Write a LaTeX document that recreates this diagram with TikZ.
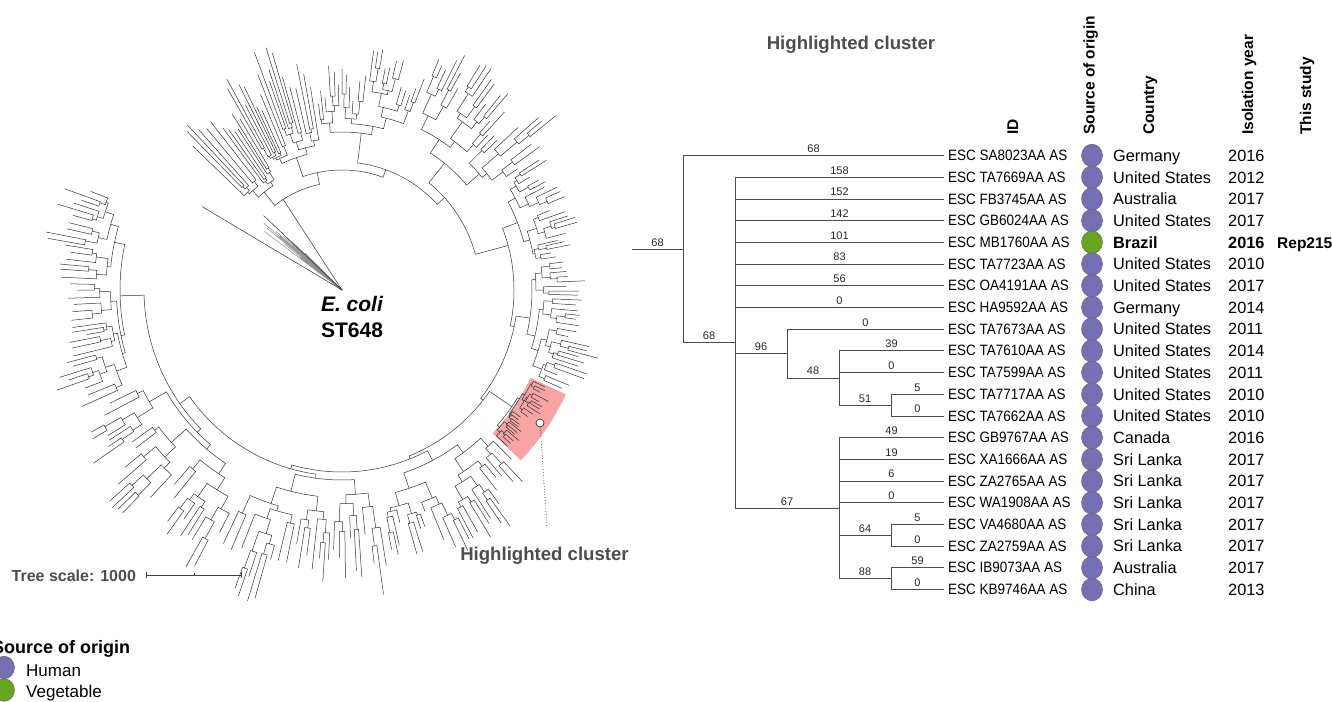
\documentclass[tikz,border=0pt]{standalone}
\usepackage{fontspec}
\setmainfont{Liberation Sans}
\usetikzlibrary{shapes.geometric,calc}
\definecolor{human}{HTML}{7570B3}
\definecolor{veg}{HTML}{66A61E}
\definecolor{hl}{RGB}{246,164,164}
\definecolor{labgray}{HTML}{4D4D4D}
\newcommand\fs[1]{\fontsize{#1}{#1}\selectfont}
\def\minspan{1.4}\def\imin{2}\def\imax{10}\def\lmin{5}\def\lmax{20}
\newcommand\clade[4]{%
  \pgfmathsetmacro\cspan{#2-#1}%
  \pgfmathsetmacro\cmid{(#1+#2)/2}%
  \pgfmathtruncatemacro\cleaf{(\cspan<\minspan)||(#4<1)}%
  \ifnum\cleaf=1
    \pgfmathsetmacro\cend{#3+\lmin+(\lmax-\lmin)*rnd}%
    \draw[tl] (\cmid:#3) -- (\cmid:\cend);%
  \else
    \pgfmathsetmacro\csplit{#1+\cspan*(0.22+0.56*rnd)}%
    \pgfmathsetmacro\cmA{(#1+\csplit)/2}%
    \pgfmathsetmacro\cmB{(\csplit+#2)/2}%
    \pgfmathsetmacro\crA{#3+\imin+(\imax-\imin)*rnd}%
    \pgfmathsetmacro\crB{#3+\imin+(\imax-\imin)*rnd}%
    \pgfmathtruncatemacro\cdep{#4-1}%
    \draw[tl] (\cmA:\crA) -- (\cmA:#3) arc[start angle=\cmA,end angle=\cmB,radius=#3] -- (\cmB:\crB);%
    \edef\cnext{\noexpand\clade{#1}{\csplit}{\crA}{\cdep}\noexpand\clade{\csplit}{#2}{\crB}{\cdep}}%
    \begingroup\cnext\endgroup
  \fi}
\newcommand\params[5]{\def\imin{#1}\def\imax{#2}\def\lmin{#3}\def\lmax{#4}\def\minspan{#5}}
\begin{document}
\begin{tikzpicture}[x=1pt,y=-1pt,
  tl/.style={draw=black!80,line width=0.5pt},
  rt/.style={draw=black!70,line width=0.8pt},
  bl/.style={font=\fs{11},inner sep=0pt,text=black!85},
  idtxt/.style={font=\fs{15},inner sep=0pt,xscale=0.9},
  cell/.style={font=\fs{16.3},inner sep=0pt},
  hdr/.style={font=\fs{15.5}\bfseries,inner sep=0pt,rotate=90,anchor=base west},
  src/.style={ellipse,draw=black!60,line width=0.5pt,minimum width=21pt,minimum height=22.6pt,inner sep=0pt},
  graylab/.style={font=\fs{18.6}\bfseries,text=labgray,inner sep=0pt}]
\useasboundingbox (0,0) rectangle (1332,701);
% ---------------- circular tree ----------------
\begin{scope}[shift={(342,290)}]
  \fill[hl] (25:208) arc[start angle=25,end angle=43.6,radius=208] -- (43.6:247)
        arc[start angle=43.6,end angle=25,radius=247] -- cycle;
  % grey collapsed bundle and root lines
  \pgfmathsetseed{7}
  \foreach \i in {0,...,16}{
    \pgfmathsetmacro\ga{217+0.5*\i}
    \pgfmathsetmacro\gl{45+60*rnd}
    \draw[draw=black!45,line width=0.5pt] (0,0) -- (\ga:\gl);
  }
  \draw[tl] (0,0) -- (210.8:163);
  \draw[tl] (0,0) -- (223.5:108);
  % backbone
  \draw[tl] (0,0) -- (237:108);
  \draw[tl] (231.5:125) -- (231.5:108) arc[start angle=231.5,end angle=258,radius=108] -- (258:120);
  \draw[tl] (251:140) -- (251:120) arc[start angle=251,end angle=290,radius=120] -- (290:128);
  \draw[tl] (277:158) -- (277:128) arc[start angle=277,end angle=318,radius=128] -- (318:138);
  \draw[tl] (309:163) -- (309:138) arc[start angle=309,end angle=345,radius=138] -- (345:172);
  \draw[tl] (339:188) -- (339:172) arc[start angle=339,end angle=372,radius=172] -- (372:176);
  \draw[tl] (368.5:190) -- (368.5:176) arc[start angle=368.5,end angle=398,radius=176] -- (398:179);
  \draw[tl] (394.5:206) -- (394.5:179) arc[start angle=394.5,end angle=428,radius=179] -- (428:182);
  \draw[tl] (422:193) -- (422:182) arc[start angle=422,end angle=466,radius=182] -- (466:186);
  \draw[tl] (458:190) -- (458:186) arc[start angle=458,end angle=505,radius=186] -- (505:198);
  \draw[tl] (495.5:203) -- (495.5:198) arc[start angle=495.5,end angle=538.5,radius=198] -- (538.5:222);
  % clades
  \pgfmathsetseed{11}\params{2}{9}{45}{80}{2.0}\clade{223}{240}{125}{14}
  \pgfmathsetseed{12}\params{2}{10}{40}{75}{1.8}\clade{240}{262}{140}{14}
  \pgfmathsetseed{13}\params{4}{14}{4}{18}{2.0}\clade{262}{292}{158}{14}
  \pgfmathsetseed{14}\params{5}{22}{4}{18}{2.0}\clade{292}{326}{163}{14}
  \pgfmathsetseed{15}\params{2}{10}{5}{22}{2.0}\clade{326}{352}{188}{14}
  \pgfmathsetseed{16}\params{2}{10}{6}{28}{1.8}\clade{352}{385}{190}{14}
  \pgfmathsetseed{17}\params{1}{4}{5}{15}{1.3}\clade{385}{404}{206}{14}
  \pgfmathsetseed{18}\params{3}{18}{5}{25}{2.0}\clade{404}{440}{193}{14}
  \pgfmathsetseed{19}\params{5}{22}{5}{30}{2.0}\clade{440}{476}{190}{14}
  \pgfmathsetseed{20}\params{5}{20}{5}{22}{2.0}\clade{476}{515}{203}{14}
  \pgfmathsetseed{21}\params{2}{12}{10}{35}{2.0}\clade{515}{562}{222}{14}
\end{scope}
\node[circle,draw=black!80,fill=white,line width=0.7pt,minimum size=8pt,inner sep=0pt] (hc) at (540,423) {};
\coordinate (hcend) at (547,528);
\draw[black!70,dotted,line width=0.8pt] (hc) -- (hcend);
\node[graylab,anchor=base] (hclab) at (544.5,560) {Highlighted cluster};
\node[font=\fs{21}\bfseries\itshape,anchor=base,inner sep=0pt] (ecoli) at (352,311) {E. coli};
\node[font=\fs{21}\bfseries,anchor=base,inner sep=0pt] (st) at (352,337) {ST648};
% tree scale
\node[font=\fs{16}\bfseries,text=labgray,anchor=base west,inner sep=0pt] (tsl) at (11.5,581) {Tree scale: 1000};
\coordinate (sb1) at (146.7,575);
\coordinate (sb2) at (241.7,575);
\coordinate (sbm) at (194.2,575);
\draw[black!75,line width=0.8pt] (sb1) -- (sb2);
\draw[black!75,line width=0.8pt] ([yshift=3pt]sb1) -- ([yshift=-3pt]sb1);
\draw[black!75,line width=0.8pt] ([yshift=3pt]sb2) -- ([yshift=-3pt]sb2);
\draw[black!75,line width=0.8pt] (sbm) -- ([yshift=2pt]sbm);
% legend
\node[font=\fs{18}\bfseries,anchor=base west,inner sep=0pt] (legt) at (-8,653) {Source of origin};
\node[src,fill=human] (lh) at (4,667.5) {};
\node[src,fill=veg] (lv) at (4,690) {};
\node[font=\fs{17},anchor=base west,inner sep=0pt] (lht) at (26,676.7) {Human};
\node[font=\fs{17},anchor=base west,inner sep=0pt] (lvt) at (26,697.3) {Vegetable};
% ---------------- right tree ----------------
\node[graylab,anchor=base] (title) at (851,50) {Highlighted cluster};
\node[hdr] (hid) at (1018,135) {ID};
\node[hdr] (hsrc) at (1094.5,135) {Source of origin};
\node[hdr] (hcty) at (1154,135) {Country};
\node[hdr] (hyr) at (1253,135) {Isolation year};
\node[hdr] (hts) at (1311,135) {This study};
\foreach \i/\code/\ctry/\yr/\col in {0/SA8023/Germany/2016/human,1/TA7669/United States/2012/human,
  2/FB3745/Australia/2017/human,3/GB6024/United States/2017/human,4/MB1760/\bfseries Brazil/\bfseries 2016/veg,
  5/TA7723/United States/2010/human,6/OA4191/United States/2017/human,7/HA9592/Germany/2014/human,
  8/TA7673/United States/2011/human,9/TA7610/United States/2014/human,10/TA7599/United States/2011/human,
  11/TA7717/United States/2010/human,12/TA7662/United States/2010/human,13/GB9767/Canada/2016/human,
  14/XA1666/Sri Lanka/2017/human,15/ZA2765/Sri Lanka/2017/human,16/WA1908/Sri Lanka/2017/human,
  17/VA4680/Sri Lanka/2017/human,18/ZA2759/Sri Lanka/2017/human,19/IB9073/Australia/2017/human,
  20/KB9746/China/2013/human}{
  \node[idtxt,anchor=west] (id\i) at (948,{155.5+21.7*\i}) {ESC \code AA AS};
  \node[src,fill=\col] (s\i) at (1092,{155.5+21.7*\i}) {};
  \node[cell,anchor=base west] (c\i) at (1113,{161.35+21.7*\i}) {\ctry};
  \node[cell,anchor=base west] (y\i) at (1228,{161.35+21.7*\i}) {\yr};
}
\node[cell,font=\fs{15.5}\bfseries,anchor=base west] (rep) at (1277,248.1) {Rep215};
\coordinate (root) at (632,249.1);
\coordinate (n68a) at (683,249.1);
\coordinate (n68b) at (735,342.65);
\coordinate (n96) at (787,353.5);
\coordinate (n48) at (839,377.9);
\coordinate (n51) at (891,405.05);
\coordinate (n67) at (839,508.1);
\coordinate (n64) at (891,535.25);
\coordinate (n88) at (891,578.65);
\draw[rt] (root) -- (n68a) node[bl,midway,above=2.5pt] {68};
\draw[rt] (n68a |- id0) -- (n68a |- n68b) -- (n68b) node[bl,midway,above=2.5pt] {68};
\draw[rt] (n68b |- id1) -- (n68b |- n67) -- (n67) node[bl,midway,above=2.5pt] {67};
\draw[rt] (n68b |- n96) -- (n96) node[bl,midway,above=2.5pt] {96};
\draw[rt] (n96 |- id8) -- (n96 |- n48) -- (n48) node[bl,midway,above=2.5pt] {48};
\draw[rt] (n48 |- id9) -- (n48 |- n51) -- (n51) node[bl,midway,above=2.5pt] {51};
\draw[rt] (n51 |- id11) -- (n51 |- id12);
\draw[rt] (n67 |- id13) -- (n67 |- n88) -- (n88) node[bl,midway,above=2.5pt] {88};
\draw[rt] (n67 |- n64) -- (n64) node[bl,midway,above=2.5pt] {64};
\draw[rt] (n64 |- id17) -- (n64 |- id18);
\draw[rt] (n88 |- id19) -- (n88 |- id20);
\foreach \i/\p/\v in {0/n68a/68,1/n68b/158,2/n68b/152,3/n68b/142,4/n68b/101,5/n68b/83,6/n68b/56,7/n68b/0,
  8/n96/0,9/n48/39,10/n48/0,11/n51/5,12/n51/0,13/n67/49,14/n67/19,15/n67/6,16/n67/0,
  17/n64/5,18/n64/0,19/n88/59,20/n88/0}{
  \draw[rt] (\p |- id\i) -- ([xshift=-4pt]id\i.west) node[bl,midway,above=2.5pt] {\v};
}
\end{tikzpicture}
\end{document}
